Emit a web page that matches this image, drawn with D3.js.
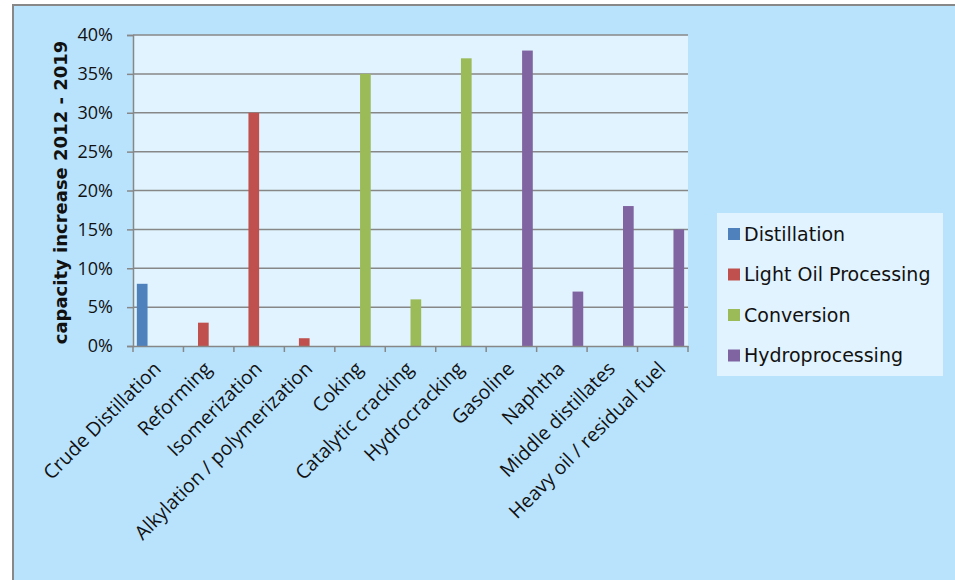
<!DOCTYPE html>
<html>
<head>
<meta charset="utf-8">
<script src="https://cdn.jsdelivr.net/npm/d3@7"></script>
<style>
  body { margin: 0; background: #fff; }
  svg { display: block; }
</style>
</head>
<body>
<svg id="chart" width="955" height="580"></svg>
<script>
// Data
const categories = ['Crude Distillation', 'Reforming', 'Isomerization', 'Alkylation / polymerization',
  'Coking', 'Catalytic cracking', 'Hydrocracking', 'Gasoline', 'Naphtha', 'Middle distillates',
  'Heavy oil / residual fuel'];
const seriesNames = ['Distillation', 'Light Oil Processing', 'Conversion', 'Hydroprocessing'];
const seriesColors = ['#4f81bd', '#c0504d', '#9bbb59', '#8064a2'];
// which series each category belongs to
const categorySeries = [0, 1, 1, 1, 2, 2, 2, 3, 3, 3, 3];
const values = [0.08, 0.03, 0.30, 0.01, 0.35, 0.06, 0.37, 0.38, 0.07, 0.18, 0.15];
const yTicks = [0, 0.05, 0.10, 0.15, 0.20, 0.25, 0.30, 0.35, 0.40];

const svg = d3.select('#chart');
const margin = { top: 35, left: 133, right: 267, bottom: 234 };
const width = 955 - margin.left - margin.right;
const height = 580 - margin.top - margin.bottom;

// chart area background + border
svg.append('rect')
  .attr('x', 13).attr('y', 5).attr('width', 960).attr('height', 600)
  .attr('fill', '#b9e3fd').attr('stroke', '#888').attr('stroke-width', 2);

const g = svg.append('g').attr('transform', `translate(${margin.left},${margin.top})`);

g.append('rect')
  .attr('width', width).attr('height', height)
  .attr('fill', '#e1f3fe');

const x = d3.scaleBand().domain(categories).range([0, width]).paddingInner(0).paddingOuter(0);
const xSeries = d3.scaleBand().domain(d3.range(seriesNames.length))
  .range([0, x.bandwidth()]).paddingOuter(0.36).paddingInner(0);
const y = d3.scaleLinear().domain([0, 0.4]).range([height, 0]);

// gridlines
g.append('g')
  .selectAll('line')
  .data(yTicks.slice(1))
  .join('line')
  .attr('x1', 0).attr('x2', width)
  .attr('y1', d => y(d)).attr('y2', d => y(d))
  .attr('stroke', '#878787').attr('stroke-width', 1.5);

// bars
g.append('g')
  .selectAll('rect')
  .data(categories)
  .join('rect')
  .attr('x', (d, i) => x(d) + xSeries(categorySeries[i]))
  .attr('y', (d, i) => y(values[i]))
  .attr('width', xSeries.bandwidth())
  .attr('height', (d, i) => height - y(values[i]))
  .attr('fill', (d, i) => seriesColors[categorySeries[i]]);

// y axis
const yAxis = g.append('g')
  .call(d3.axisLeft(y).tickValues(yTicks).tickFormat(d3.format('.0%')).tickSize(6).tickPadding(14));
yAxis.selectAll('text')
  .attr('font-family', 'Open Sans, sans-serif').attr('font-size', 18).attr('fill', '#111');
yAxis.selectAll('line, path').attr('stroke', '#878787').attr('stroke-width', 1.5);

// x axis
const xAxis = g.append('g')
  .attr('transform', `translate(0,${height})`)
  .call(d3.axisBottom(x).tickSize(0).tickFormat(''));
xAxis.select('.domain').attr('stroke', '#878787').attr('stroke-width', 1.5);
// tick marks at band boundaries
g.append('g')
  .selectAll('line')
  .data(categories.concat(['end']))
  .join('line')
  .attr('x1', (d, i) => i < categories.length ? x(d) : width)
  .attr('x2', (d, i) => i < categories.length ? x(d) : width)
  .attr('y1', height).attr('y2', height + 6)
  .attr('stroke', '#878787').attr('stroke-width', 1.5);

// rotated category labels
g.append('g')
  .selectAll('text')
  .data(categories)
  .join('text')
  .attr('transform', d => `translate(${x(d) + x.bandwidth() / 2 + 4},${height + 24}) rotate(-45)`)
  .attr('text-anchor', 'end')
  .attr('font-family', 'Open Sans, sans-serif')
  .attr('font-size', 19.5)
  .attr('fill', '#111')
  .text(d => d);

// y axis title
svg.append('text')
  .attr('transform', `translate(67,${margin.top + height / 2 + 2}) rotate(-90)`)
  .attr('text-anchor', 'middle')
  .attr('font-family', 'DejaVu Sans, sans-serif')
  .attr('font-weight', 'bold')
  .attr('font-size', 18)
  .attr('fill', '#111')
  .text('capacity increase 2012 - 2019');

// legend
const legend = svg.append('g').attr('transform', 'translate(717,213)');
legend.append('rect')
  .attr('width', 226).attr('height', 163)
  .attr('fill', '#e1f3fe');
const items = legend.selectAll('g.item')
  .data(seriesNames)
  .join('g')
  .attr('class', 'item')
  .attr('transform', (d, i) => `translate(11,${21 + i * 40.5})`);
items.append('rect')
  .attr('y', -6).attr('width', 12).attr('height', 12)
  .attr('fill', (d, i) => seriesColors[i]);
items.append('text')
  .attr('x', 16).attr('dy', '0.35em')
  .attr('font-family', 'DejaVu Sans, sans-serif')
  .attr('font-size', 19)
  .attr('fill', '#111')
  .text(d => d);
</script>
</body>
</html>
